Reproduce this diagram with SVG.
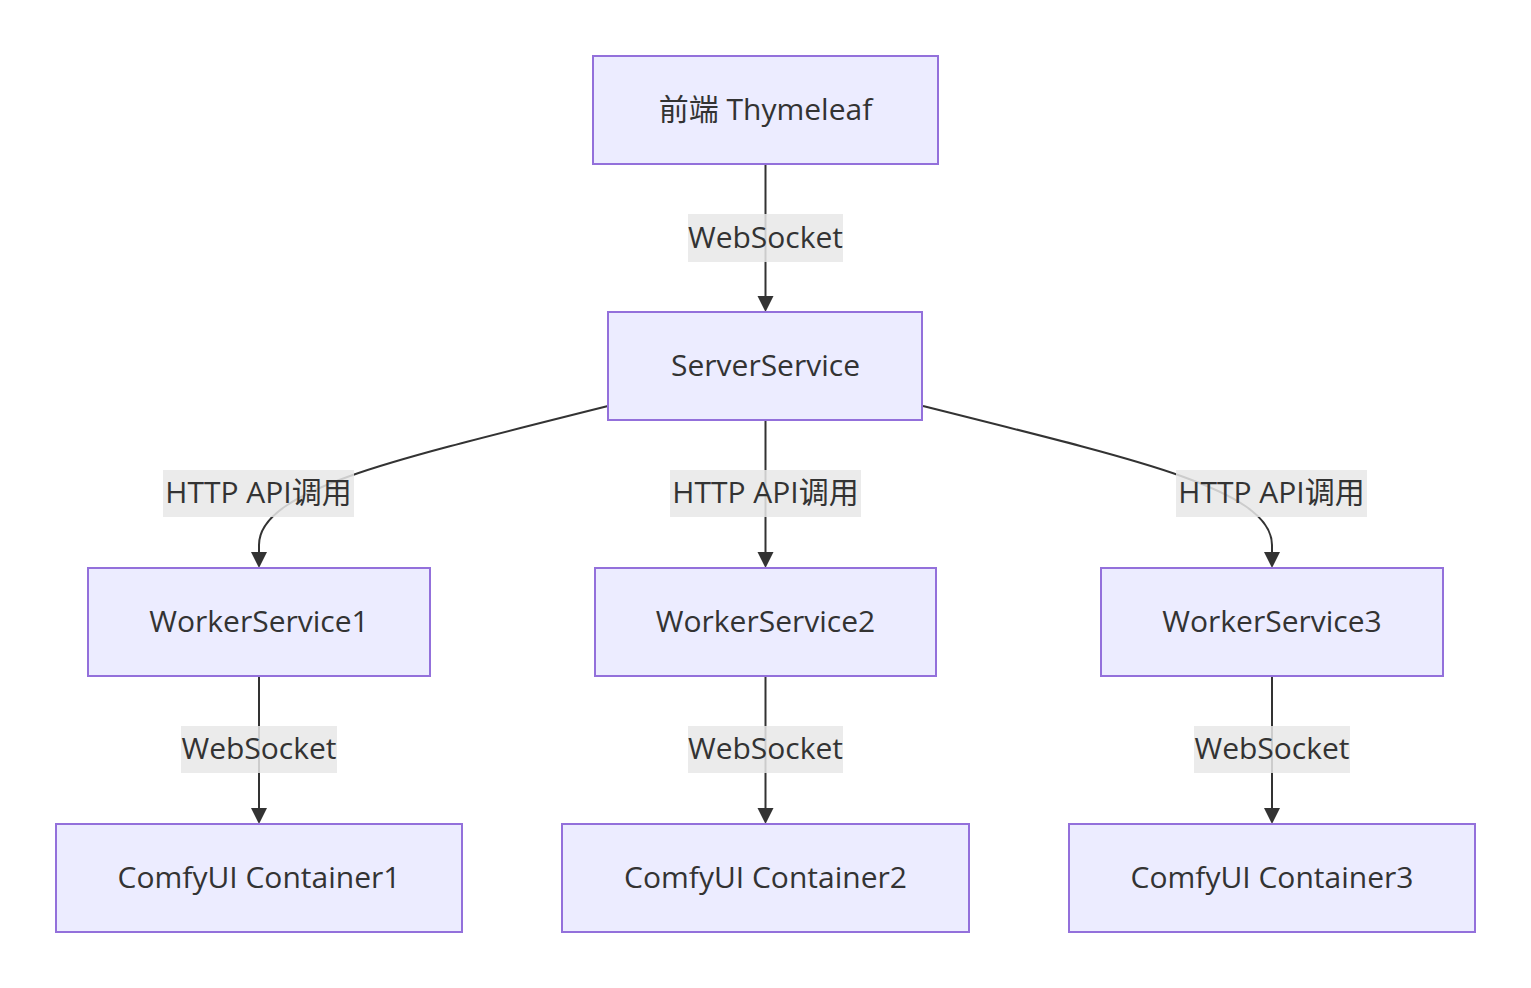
<svg xmlns="http://www.w3.org/2000/svg" width="1531" height="988" viewBox="0 0 1531 988">
<style>
.node rect{fill:#ECECFF;stroke:#9370DB;stroke-width:2}
.node text{font-family:"Open Sans","Noto Sans CJK SC",sans-serif;font-size:30px;fill:#333;text-anchor:middle;dominant-baseline:central}
.edge{fill:none;stroke:#333;stroke-width:2}
.arrow{fill:#333}
.lbl rect{fill:#e8e8e8;fill-opacity:0.85}
.lbl text{font-family:"Open Sans","Noto Sans CJK SC",sans-serif;font-size:30px;fill:#333;text-anchor:middle;dominant-baseline:central}
</style>
<rect width="1531" height="988" fill="#fff"/>
<g id="connectors">
<path class="edge" d="M765.5,164 L765.5,296"/>
<path class="arrow" d="M757.5,296 L773.5,296 L765.5,312 z"/>
<path class="edge" d="M765.5,420 L765.5,552"/>
<path class="arrow" d="M757.5,552 L773.5,552 L765.5,568 z"/>
<path class="edge" d="M608,406 C480,438 400,458 350,476 C300,494 259,515 259,545 L259,552"/>
<path class="arrow" d="M251,552 L267,552 L259,568 z"/>
<path class="edge" d="M923,406 C1051,438 1131,458 1181,476 C1231,494 1272,515 1272,545 L1272,552"/>
<path class="arrow" d="M1264,552 L1280,552 L1272,568 z"/>
<path class="edge" d="M259,676 L259,808"/>
<path class="arrow" d="M251,808 L267,808 L259,824 z"/>
<path class="edge" d="M765.5,676 L765.5,808"/>
<path class="arrow" d="M757.5,808 L773.5,808 L765.5,824 z"/>
<path class="edge" d="M1272,676 L1272,808"/>
<path class="arrow" d="M1264,808 L1280,808 L1272,824 z"/>
<g class="lbl"><rect x="688" y="214" width="155" height="48"/><text x="765.5" y="236">WebSocket</text></g>
<g class="lbl"><rect x="163" y="470" width="191" height="47"/><text x="258.5" y="491">HTTP API调用</text></g>
<g class="lbl"><rect x="670" y="470" width="191" height="47"/><text x="765.5" y="491">HTTP API调用</text></g>
<g class="lbl"><rect x="1176" y="470" width="191" height="47"/><text x="1271.5" y="491">HTTP API调用</text></g>
<g class="lbl"><rect x="181" y="726" width="156" height="47"/><text x="259" y="747">WebSocket</text></g>
<g class="lbl"><rect x="688" y="726" width="155" height="47"/><text x="765.5" y="747">WebSocket</text></g>
<g class="lbl"><rect x="1194" y="726" width="156" height="47"/><text x="1272" y="747">WebSocket</text></g>
</g>
<g id="frontend" class="node"><rect x="593" y="56" width="345" height="108"/><text x="765.5" y="108">前端 Thymeleaf</text></g>
<g id="server" class="node"><rect x="608" y="312" width="314" height="108"/><text x="765.5" y="364">ServerService</text></g>
<g id="worker1" class="node"><rect x="88" y="568" width="342" height="108"/><text x="259" y="620">WorkerService1</text></g>
<g id="worker2" class="node"><rect x="595" y="568" width="341" height="108"/><text x="765.5" y="620">WorkerService2</text></g>
<g id="worker3" class="node"><rect x="1101" y="568" width="342" height="108"/><text x="1272" y="620">WorkerService3</text></g>
<g id="container1" class="node"><rect x="56" y="824" width="406" height="108"/><text x="259" y="876">ComfyUI Container1</text></g>
<g id="container2" class="node"><rect x="562" y="824" width="407" height="108"/><text x="765.5" y="876">ComfyUI Container2</text></g>
<g id="container3" class="node"><rect x="1069" y="824" width="406" height="108"/><text x="1272" y="876">ComfyUI Container3</text></g>
</svg>
